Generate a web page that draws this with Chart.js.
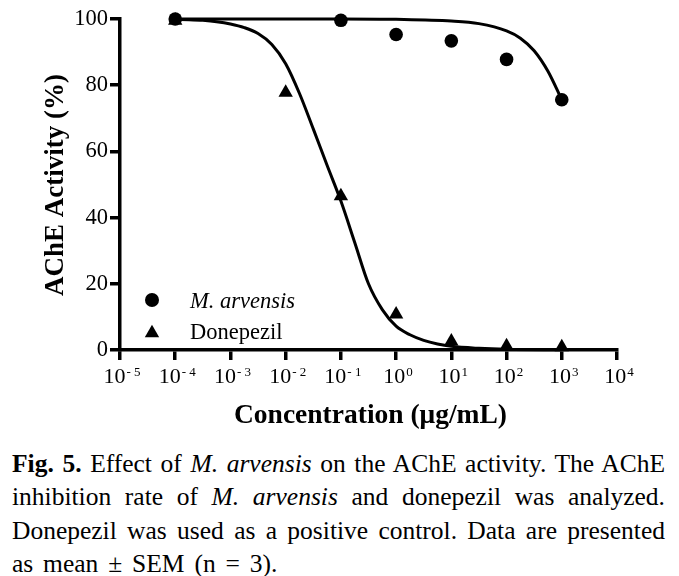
<!DOCTYPE html>
<html><head><meta charset="utf-8">
<script src="https://cdn.jsdelivr.net/npm/chart.js@4.4.1/dist/chart.umd.min.js"></script>
<style>
html,body{margin:0;padding:0;background:#fff;}
#wrap{position:relative;width:679px;height:576px;overflow:hidden;background:#fff;}
#c{position:absolute;left:0;top:0;}
#cap{position:absolute;left:12px;top:446.6px;width:653px;font-family:'Liberation Serif','Times New Roman',Times,Tinos,'Noto Serif',Georgia,'DejaVu Serif',serif;font-size:25.5px;line-height:33.6px;color:#000;}
#cap .j{text-align:justify;text-align-last:justify;}
</style></head>
<body>
<div id="wrap">
<canvas id="c" width="679" height="440"></canvas>
<div id="cap">
<div class="j"><b>Fig. 5.</b> Effect of <i>M. arvensis</i> on the AChE activity. The AChE</div>
<div class="j">inhibition rate of <i>M. arvensis</i> and donepezil was analyzed.</div>
<div class="j">Donepezil was used as a positive control. Data are presented</div>
<div style="word-spacing:3.5px">as mean ± SEM (n = 3).</div>
</div>
</div>
<script>
// measured data (concentration in µg/mL, activity in %)
const mArvConc = [0.0001, 0.1, 1, 10, 100, 1000];
const mArvActivity = [100, 99.6, 95.3, 93.4, 87.8, 75.6];
const donepezilConc = [0.0001, 0.01, 0.1, 1, 10, 100, 1000];
const donepezilActivity = [99.5, 77.8, 46.5, 10.8, 2.6, 1.2, 0.9];
// fitted curves
const mArvFitConc = [0.0001, 0.01, 0.1, 1, 10, 31.6, 100, 178, 316, 562, 1000];
const mArvFitActivity = [100, 100, 100, 99.9, 99.4, 98.6, 96.4, 94.2, 90.4, 84.2, 75.6];
const donepezilFitConc = [0.0001, 0.000178, 0.000316, 0.000562, 0.001, 0.00178, 0.00316, 0.00562, 0.01, 0.0178, 0.0316, 0.0562, 0.1, 0.178, 0.316, 0.562, 1, 1.78, 3.16, 5.62, 10, 31.6, 100, 1000];
const donepezilFitActivity = [99.9, 99.8, 99.6, 99.2, 98.5, 97.4, 95.6, 92.3, 86.5, 77.5, 66.8, 55.8, 45, 32.5, 20, 12.2, 7.2, 4.6, 2.9, 1.8, 1.1, 0.5, 0.2, 0.05];
// axis ticks
const xTickExponents = [-5, -4, -3, -2, -1, 0, 1, 2, 3, 4];
const yTicks = [0, 20, 40, 60, 80, 100];
const yTitle = 'AChE Activity (%)';
const xTitle = 'Concentration (\u03bcg/mL)';
const legendLabels = ['M. arvensis', 'Donepezil'];

const SERIF = "'Liberation Serif', 'Times New Roman', Times, Tinos, 'Noto Serif', Georgia, 'DejaVu Serif', serif";
Chart.defaults.font.family = SERIF;
Chart.defaults.color = '#000';

const toXY = (xs, ys) => xs.map((x, i) => ({x: x, y: ys[i]}));

function tri(ctx, x, y, r) {
  ctx.beginPath();
  ctx.moveTo(x, y - r);
  ctx.lineTo(x + r * 0.866, y + r * 0.5);
  ctx.lineTo(x - r * 0.866, y + r * 0.5);
  ctx.closePath();
  ctx.fill();
}

const decor = {
  id: 'decor',
  afterDraw(chart) {
    const ctx = chart.ctx, xs = chart.scales.x, area = chart.chartArea;
    ctx.save();
    ctx.fillStyle = '#000';
    ctx.textBaseline = 'alphabetic';
    ctx.textAlign = 'left';
    xTickExponents.forEach(e => {
      const px = xs.getPixelForValue(Math.pow(10, e));
      ctx.font = '22px ' + SERIF;
      const w1 = ctx.measureText('10').width;
      const exp = e < 0 ? '- ' + (-e) : String(e);
      ctx.font = '13px ' + SERIF;
      const w2 = ctx.measureText(exp).width;
      const start = px - (w1 + 1 + w2) / 2 + 2;
      ctx.font = '22px ' + SERIF;
      ctx.fillText('10', start, 383);
      ctx.font = '13px ' + SERIF;
      ctx.fillText(exp, start + w1 + 1, 376);
    });
    ctx.font = 'bold 27.5px ' + SERIF;
    ctx.textAlign = 'center';
    ctx.fillText(xTitle, (area.left + area.right) / 2 + 2, 423);
    ctx.font = 'bold 27px ' + SERIF;
    ctx.save();
    ctx.translate(63, 185);
    ctx.rotate(-Math.PI / 2);
    ctx.fillText(yTitle, 0, 0);
    ctx.restore();
    ctx.textAlign = 'left';
    ctx.beginPath();
    ctx.arc(152, 300, 7, 0, Math.PI * 2);
    ctx.fill();
    ctx.font = 'italic 22.5px ' + SERIF;
    ctx.fillText(legendLabels[0], 190, 308);
    tri(ctx, 152, 333, 8.3);
    ctx.font = '22.5px ' + SERIF;
    ctx.fillText(legendLabels[1], 190, 339);
    ctx.restore();
  }
};

const axisGrid = {display: true, drawOnChartArea: false, drawTicks: true, tickLength: 10, color: '#000', lineWidth: 3.5};
const axisBorder = {display: true, color: '#000', width: 3.5};

new Chart(document.getElementById('c'), {
  type: 'scatter',
  data: {
    datasets: [
      {label: 'M. arvensis fit', data: toXY(mArvFitConc, mArvFitActivity), showLine: true, borderColor: '#000', borderWidth: 3, pointRadius: 0, cubicInterpolationMode: 'monotone', clip: false, fill: false},
      {label: 'Donepezil fit', data: toXY(donepezilFitConc, donepezilFitActivity), showLine: true, borderColor: '#000', borderWidth: 3, pointRadius: 0, cubicInterpolationMode: 'monotone', clip: false, fill: false},
      {label: legendLabels[0], data: toXY(mArvConc, mArvActivity), pointStyle: 'circle', pointRadius: 6.8, backgroundColor: '#000', borderColor: '#000', borderWidth: 0, clip: false},
      {label: legendLabels[1], data: toXY(donepezilConc, donepezilActivity), pointStyle: 'triangle', pointRadius: 8.3, backgroundColor: '#000', borderColor: '#000', borderWidth: 0, clip: false}
    ]
  },
  options: {
    responsive: false,
    animation: false,
    devicePixelRatio: 1,
    layout: {padding: {left: 0, top: 19, right: 62, bottom: 0}},
    plugins: {legend: {display: false}, tooltip: {enabled: false}},
    scales: {
      x: {
        type: 'logarithmic', position: 'bottom', min: 1e-5, max: 1e4,
        afterBuildTicks: s => { s.ticks = xTickExponents.map(e => ({value: Math.pow(10, e), major: true})); },
        afterFit: s => { s.height = 90; },
        ticks: {display: false},
        grid: axisGrid,
        border: axisBorder
      },
      y: {
        type: 'linear', position: 'left', min: 0, max: 100,
        afterBuildTicks: s => { s.ticks = yTicks.map(v => ({value: v})); },
        afterFit: s => { s.width = 120; },
        ticks: {font: {family: SERIF, size: 22.5}, color: '#000', padding: 2},
        grid: axisGrid,
        border: axisBorder
      }
    }
  },
  plugins: [decor]
});
</script>
</body></html>
